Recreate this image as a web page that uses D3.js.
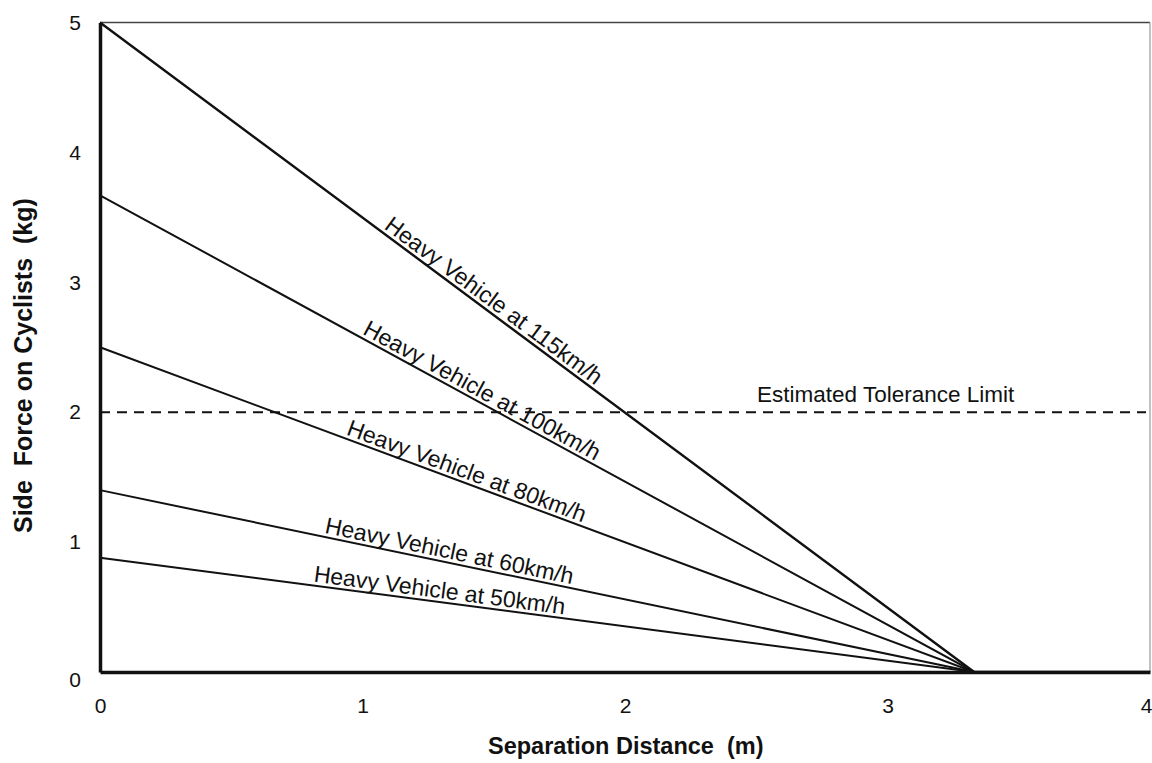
<!DOCTYPE html>
<html>
<head>
<meta charset="utf-8">
<script src="https://cdn.jsdelivr.net/npm/d3@7"></script>
<style>
  body { margin: 0; background: #fff; }
  svg { display: block; font-family: "Liberation Sans", Arial, sans-serif; }
</style>
</head>
<body>
<div id="chart"></div>
<script>
// data
var speeds = ["115", "100", "80", "60", "50"];
var forceAtZero = [5, 3.67, 2.5, 1.4, 0.88];   // kg at 0 m
var zeroDistance = 3.33;                        // m where all lines reach 0
var labelStart = [1.07, 0.99, 0.93, 0.85, 0.81]; // m, where each label begins
var tolerance = 2;
var xTicks = [0, 1, 2, 3, 4];
var yTicks = [0, 1, 2, 3, 4, 5];

var width = 1152, height = 763;
var svg = d3.select("#chart").append("svg")
    .attr("width", width)
    .attr("height", height);

var x = d3.scaleLinear().domain([0, 4]).range([100, 1150]);
var y = d3.scaleLinear().domain([0, 5]).range([672, 22.5]);

// thin frame top and right
svg.append("line")
    .attr("x1", x(0)).attr("x2", x(4))
    .attr("y1", y(5)).attr("y2", y(5))
    .attr("stroke", "#444").attr("stroke-width", 1.5);
svg.append("line")
    .attr("x1", x(4)).attr("x2", x(4))
    .attr("y1", y(5)).attr("y2", y(0))
    .attr("stroke", "#999").attr("stroke-width", 1.2);

// axes
var xAxis = svg.append("g")
    .attr("transform", "translate(0," + y(0) + ")")
    .call(d3.axisBottom(x).tickValues(xTicks).tickSize(0).tickSizeOuter(0).tickPadding(26).tickFormat(d3.format("d")));
var yAxis = svg.append("g")
    .attr("transform", "translate(" + x(0) + ",0)")
    .call(d3.axisLeft(y).tickValues(yTicks).tickSize(0).tickSizeOuter(0).tickPadding(19).tickFormat(d3.format("d")));

[xAxis, yAxis].forEach(function(a) {
  a.select(".domain").attr("stroke", "#111").attr("stroke-width", 3.5);
  a.selectAll("text")
    .attr("font-family", "Liberation Sans, Arial, sans-serif")
    .attr("font-size", 21)
    .attr("fill", "#111");
});
// last x label sits at the page edge, keep it inside
xAxis.selectAll(".tick text").filter(function(d) { return d == 4; })
    .attr("text-anchor", "end").attr("dx", 2);
yAxis.selectAll(".tick text").filter(function(d) { return d == 0; })
    .attr("dy", "0.7em");

// tolerance limit
svg.append("line")
    .attr("x1", x(0)).attr("x2", x(4) - 4)
    .attr("y1", y(tolerance)).attr("y2", y(tolerance))
    .attr("stroke", "#111")
    .attr("stroke-width", 2)
    .attr("stroke-dasharray", "10,7");
svg.append("text")
    .attr("x", 757)
    .attr("y", y(tolerance) - 10)
    .attr("font-size", 22.5)
    .attr("fill", "#111")
    .text("Estimated Tolerance Limit");

// the speed lines
var line = d3.line()
    .x(function(d) { return x(d[0]); })
    .y(function(d) { return y(d[1]); });

var series = speeds.map(function(s, i) {
  return {
    name: "Heavy Vehicle at " + s + "km/h",
    values: [[0, forceAtZero[i]], [zeroDistance, 0], [4, 0]],
    labelAt: labelStart[i]
  };
});

svg.selectAll(".speed")
  .data(series)
  .enter()
  .append("path")
    .attr("class", "speed")
    .attr("d", function(d) { return line(d.values); })
    .attr("fill", "none")
    .attr("stroke", "#111")
    .attr("stroke-width", function(d, i) { return i == 0 ? 2.4 : 2; });

// labels along each line
svg.selectAll(".lbl")
  .data(series)
  .enter()
  .append("text")
    .attr("class", "lbl")
    .attr("font-size", 23)
    .attr("fill", "#111")
    .attr("transform", function(d) {
      var x0 = x(d.labelAt);
      var f = d.values[0][1] * (1 - d.labelAt / zeroDistance);
      var y0 = y(f);
      var ang = Math.atan2(y(0) - y(d.values[0][1]), x(zeroDistance) - x(0)) * 180 / Math.PI;
      return "translate(" + x0 + "," + y0 + ") rotate(" + ang + ")";
    })
    .attr("dy", -4)
    .text(function(d) { return d.name; });

// axis titles
svg.append("text")
    .attr("x", 488)
    .attr("y", 754)
    .attr("font-size", 23.5)
    .attr("font-weight", "bold")
    .attr("fill", "#111")
    .style("white-space", "pre")
    .text("Separation Distance  (m)");

svg.append("text")
    .attr("transform", "translate(32,533) rotate(-90)")
    .attr("font-size", 25)
    .attr("font-weight", "bold")
    .attr("fill", "#111")
    .style("white-space", "pre")
    .text("Side  Force on Cyclists  (kg)");
</script>
</body>
</html>
